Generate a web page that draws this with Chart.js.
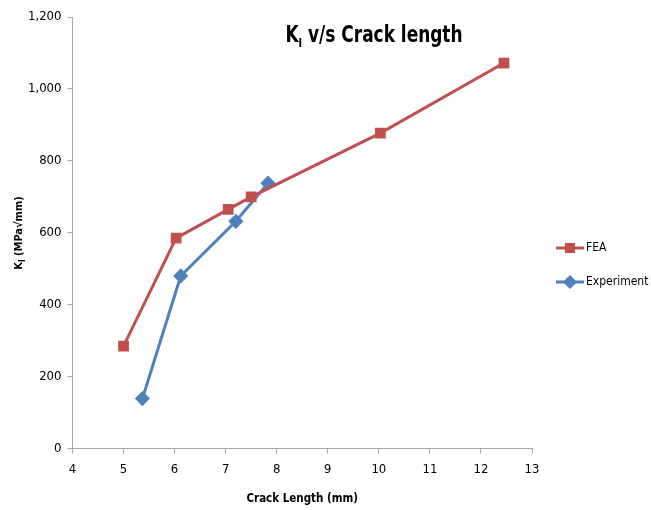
<!DOCTYPE html>
<html lang="en">
<head>
  <meta charset="UTF-8">
  <title>KI v/s Crack length</title>
  <script src="https://cdn.jsdelivr.net/npm/chart.js@4.4.1/dist/chart.umd.min.js"></script>
  <style>
    body { margin: 0; background: #fff; }
    .wrap { width: 651px; height: 510px; }
  </style>
</head>
<body>
<div class="wrap"><canvas id="kiChart"></canvas></div>

<script>
  // FEA series
  const feaLength = [5.0, 6.03, 7.05, 7.5, 10.03, 12.45];
  const feaKI = [285, 585, 665, 700, 877, 1072];

  // Experiment series
  const expLength = [5.37, 6.12, 7.2, 7.83];
  const expKI = [139, 480, 632, 738];

  const FONT = "'DejaVu Sans Condensed', 'Liberation Sans', sans-serif";
  const feaColor = "#C0504D";
  const expColor = "#4F81BD";
  const axisGrey = "#A6A6A6";

  // draws the title and y axis title with the subscript I
  const labelsPlugin = {
    id: 'labels',
    afterDraw(chart) {
      const ctx = chart.ctx;
      ctx.save();
      ctx.fillStyle = "#000";
      ctx.textBaseline = "alphabetic";

      // main title, squeezed a little to look like the narrow original font
      const bigFont = "bold 23px " + FONT;
      const subFont = "bold 13px " + FONT;
      const squeeze = 0.82;
      ctx.font = bigFont;
      const wK = ctx.measureText("K").width;
      const rest = " v/s Crack length";
      const wRest = ctx.measureText(rest).width;
      ctx.font = subFont;
      const wI = ctx.measureText("I").width;
      ctx.save();
      ctx.translate(374, 42);
      ctx.scale(squeeze, 1);
      let x = -(wK + wI + wRest) / 2;
      ctx.font = bigFont;
      ctx.fillText("K", x, 0);
      x += wK;
      ctx.font = subFont;
      ctx.fillText("I", x, 5);
      x += wI;
      ctx.font = bigFont;
      ctx.fillText(rest, x, 0);
      ctx.restore();

      // y axis title (rotated)
      ctx.translate(22, 233);
      ctx.rotate(-Math.PI / 2);
      const yFont = "bold 11px " + FONT;
      const ySub = "bold 8px " + FONT;
      ctx.font = yFont;
      const a = ctx.measureText("K").width;
      const b = " (MPa\u221Amm)";
      const wb = ctx.measureText(b).width;
      ctx.font = ySub;
      const wi = ctx.measureText("I").width;
      let yx = -(a + wi + wb) / 2;
      ctx.font = yFont;
      ctx.fillText("K", yx, 0);
      yx += a;
      ctx.font = ySub;
      ctx.fillText("I", yx, 3);
      yx += wi;
      ctx.font = yFont;
      ctx.fillText(b, yx, 0);
      ctx.restore();

      // legend on the right
      const items = [
        { text: "FEA", color: feaColor, style: 'rect', y: 248 },
        { text: "Experiment", color: expColor, style: 'rectRot', y: 282 }
      ];
      ctx.save();
      items.forEach(it => {
        ctx.strokeStyle = it.color;
        ctx.fillStyle = it.color;
        ctx.lineWidth = 3;
        ctx.beginPath();
        ctx.moveTo(556, it.y);
        ctx.lineTo(584, it.y);
        ctx.stroke();
        Chart.helpers.drawPoint(ctx, { pointStyle: it.style, radius: 5, borderWidth: 1 }, 570, it.y);
        ctx.fillStyle = "#000";
        ctx.font = "12px " + FONT;
        ctx.textBaseline = "middle";
        ctx.fillText(it.text, 586, it.y);
      });
      ctx.restore();
    }
  };

  new Chart(document.getElementById("kiChart"), {
    type: 'line',
    data: {
      datasets: [
        {
          label: "FEA",
          data: feaLength.map((v, i) => ({ x: v, y: feaKI[i] })),
          borderColor: feaColor,
          backgroundColor: feaColor,
          borderWidth: 3,
          pointStyle: 'rect',
          pointRadius: 5.5,
          pointHoverRadius: 5.5,
          fill: false,
          tension: 0
        },
        {
          label: "Experiment",
          data: expLength.map((v, i) => ({ x: v, y: expKI[i] })),
          borderColor: expColor,
          backgroundColor: expColor,
          borderWidth: 3,
          pointStyle: 'rectRot',
          pointRadius: 5.5,
          pointHoverRadius: 5.5,
          fill: false,
          tension: 0
        }
      ]
    },
    options: {
      responsive: true,
      maintainAspectRatio: false,
      animation: false,
      layout: { padding: { top: 17, right: 119, left: 22, bottom: 0 } },
      plugins: {
        legend: { display: false },
        tooltip: { enabled: false }
      },
      scales: {
        x: {
          type: 'linear',
          min: 4,
          max: 13,
          ticks: { stepSize: 1, color: "#000", font: { family: FONT, size: 13 }, padding: 8 },
          grid: { drawOnChartArea: false, color: axisGrey, tickLength: 5 },
          border: { color: axisGrey, width: 1 },
          title: { display: true, text: "Crack Length (mm)", color: "#000", font: { family: FONT, size: 11.5, weight: 'bold' }, padding: { top: 7 } }
        },
        y: {
          min: 0,
          max: 1200,
          ticks: {
            stepSize: 200,
            color: "#000",
            font: { family: FONT, size: 13 },
            padding: 6,
            callback: v => v.toLocaleString('en-US')
          },
          grid: { drawOnChartArea: false, color: axisGrey, tickLength: 5 },
          border: { color: axisGrey, width: 1 }
        }
      }
    },
    plugins: [labelsPlugin]
  });
</script>
</body>
</html>
